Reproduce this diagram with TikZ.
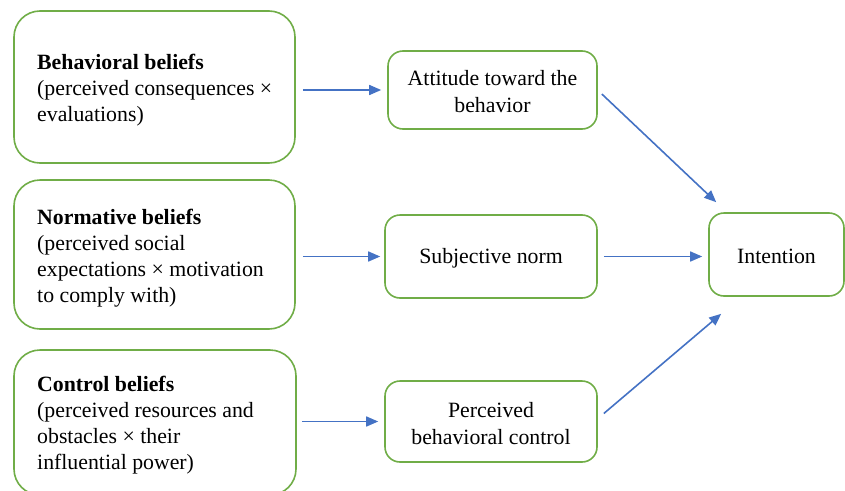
\documentclass[tikz,border=0pt]{standalone}
\usepackage{fontspec}
\setmainfont{Liberation Serif}
\usetikzlibrary{arrows.meta,calc}
\definecolor{boxgreen}{HTML}{70AD47}
\definecolor{arrowblue}{HTML}{4472C4}
\begin{document}
\begin{tikzpicture}[x=1pt,y=-1pt,
  bigbox/.style={draw=boxgreen,line width=1.6pt,rounded corners=26pt,inner sep=0pt},
  midbox/.style={draw=boxgreen,line width=1.6pt,rounded corners=15pt,inner sep=0pt},
  midtext/.style={align=center,inner sep=0pt,font=\fontsize{21.8}{27}\selectfont},
  beliefs/.style={anchor=west,align=left,inner sep=0pt,font=\fontsize{21.8}{26}\selectfont},
  flow/.style={draw=arrowblue,line width=1.6pt,-{Triangle[length=12pt,width=10pt]}}]
\useasboundingbox (0,0) rectangle (845,490);
\node[bigbox,minimum width=281pt,minimum height=152pt] (b1) at (154.5,87) {};
\node[bigbox,minimum width=281pt,minimum height=149pt] (b2) at (154.5,254.5) {};
\node[bigbox,minimum width=282pt,minimum height=145pt] (b3) at (155,422.5) {};
\node[beliefs] (t1) at (37,90.5) {\textbf{Behavioral beliefs}\\(perceived consequences ×\\evaluations)};
\node[beliefs] (t2) at (37,258.5) {\textbf{Normative beliefs}\\(perceived social\\expectations × motivation\\to comply with)};
\node[beliefs] (t3) at (37,425) {\textbf{Control beliefs}\\(perceived resources and\\obstacles × their\\influential power)};
\node[midbox,minimum width=209pt,minimum height=78pt] (a1) at (492.5,90) {};
\node[midbox,minimum width=212pt,minimum height=83pt] (a2) at (491,256.5) {};
\node[midbox,minimum width=212pt,minimum height=81pt] (a3) at (491,421.5) {};
\node[midbox,minimum width=135pt,minimum height=83pt] (in) at (776.5,254.5) {};
\node[midtext] (l1) at ($(a1.center)+(0,1.5)$) {Attitude toward the\\behavior};
\node[midtext] (l2) at ($(a2.center)+(0,2)$) {Subjective norm};
\node[midtext] (l3) at ($(a3.center)+(0,2)$) {Perceived\\behavioral control};
\node[midtext] (l4) at ($(in.center)+(0,2)$) {Intention};
\draw[flow,shorten <=7pt,shorten >=6pt] (b1.east |- a1.west) -- (a1.west);
\draw[flow,shorten <=7pt,shorten >=4pt] (b2.east |- a2.west) -- (a2.west);
\draw[flow,shorten <=5pt,shorten >=6pt] (b3.east |- a3.west) -- (a3.west);
\draw[flow] ($(a1.east)+(4,4)$) -- ($(in.north west)+(8,-10)$);
\draw[flow,shorten <=6pt,shorten >=6pt] (a2.east) -- (a2.east -| in.west);
\draw[flow] ($(a3.east)+(6,-8)$) -- ($(in.south west)+(13,17)$);
\end{tikzpicture}
\end{document}
